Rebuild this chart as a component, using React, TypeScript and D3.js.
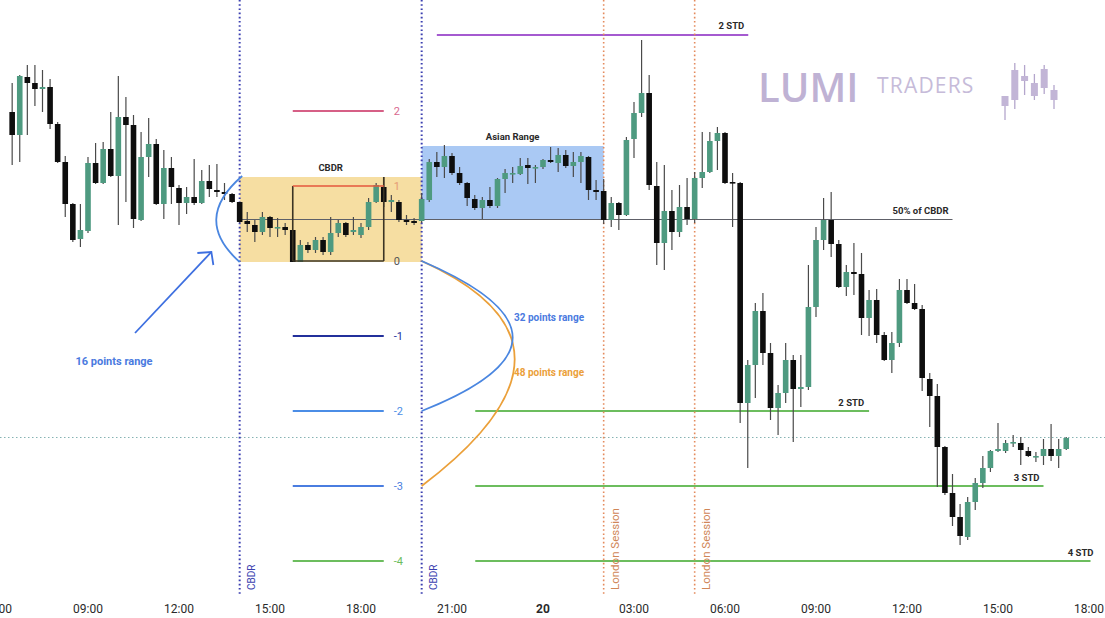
import React from 'react';
import * as d3 from 'd3';

// ---------- DATA ----------
// 15-minute candles, 19th 06:30 -> 20th 17:15
const candleStart = Date.UTC(2024, 2, 19, 6, 30);
const candleStepMs = 15 * 60 * 1000;

const opens = [
  488,465,523,517,511,513,476,438,396,361,
  369,437,417,451,424,483,475,380,443,456,
  396,432,412,397,403,397,419,410,408,406,
  398,379,375,368,383,372,373,370,338,355,
  350,360,348,367,377,368,365,373,398,413,
  398,398,380,379,379,400,438,433,444,427,
  417,401,392,400,394,421,426,426,435,432,
  433,440,437,445,434,438,443,410,409,380,
  397,385,461,487,507,414,357,389,368,393,
  381,422,428,459,467,418,417,197,235,289,
  247,192,207,240,211,213,293,360,380,356,
  313,328,326,282,300,265,240,257,310,297,
  291,221,204,153,107,83,63,98,117,132,
  149,149,157,157,149,143,144,151,144,151,
];
const highs = [
  517,525,535,535,530,521,478,444,397,396,
  443,457,458,488,524,503,485,468,482,461,
  450,443,415,413,441,430,435,436,417,407,
  398,388,380,388,384,382,377,370,360,358,
  363,363,383,380,378,383,377,402,417,423,
  405,400,385,382,407,441,448,455,447,433,
  418,405,403,413,422,431,433,442,442,435,
  441,453,452,450,448,448,444,420,421,403,
  398,463,498,560,525,438,435,410,415,422,
  428,468,468,473,468,427,418,240,297,307,
  257,215,257,245,245,335,373,402,408,360,
  335,357,347,310,311,268,268,321,321,316,
  295,227,216,154,126,96,103,122,144,150,
  177,160,165,163,153,148,161,176,161,163,
];
const lows = [
  435,438,465,494,488,471,437,383,358,353,
  367,416,416,423,375,398,372,379,423,395,
  381,396,375,386,395,396,403,403,400,397,
  377,368,358,365,363,363,365,338,338,347,
  347,345,345,363,363,365,362,370,397,393,
  388,378,375,375,377,398,423,422,425,415,
  394,390,381,392,392,407,417,425,416,417,
  431,437,428,432,423,417,400,400,376,373,
  370,384,442,483,410,335,330,350,363,375,
  377,412,427,430,416,373,177,132,202,235,
  180,165,197,158,193,210,283,350,343,312,
  304,305,265,264,257,239,227,253,296,290,
  209,173,113,105,74,55,60,90,112,128,
  148,147,153,135,143,138,135,139,132,150,
];
const closes = [
  465,524,517,511,513,476,438,396,360,370,
  437,417,451,424,483,475,381,443,456,396,
  432,413,397,403,397,419,411,408,406,398,
  378,376,368,383,372,373,370,338,355,350,
  360,348,367,377,365,370,373,398,415,398,
  400,380,378,377,401,438,433,444,427,417,
  402,392,400,394,421,427,427,434,432,433,
  440,438,445,434,438,444,410,408,380,397,
  385,460,487,507,415,357,389,368,393,381,
  422,428,459,467,417,417,197,235,289,247,
  192,207,240,211,213,293,360,380,356,313,
  328,326,282,300,265,240,257,310,297,291,
  222,204,153,107,83,64,98,117,132,149,
  151,157,158,150,144,144,151,144,151,162,
];

const tickLabels = ['06:00','09:00','12:00','15:00','18:00','21:00','20','03:00','06:00','09:00','12:00','15:00','18:00'];

// CBDR range (wick range) and fib box (body range)
const cbdrRangeHigh = 423;
const cbdrRangeLow = 338;
const fibHigh = 414;
const fibLow = 339;
const fibRatios = [2, 1, 0, -1, -2, -3, -4];
const fibLabels = ['2', '1', '0', '-1', '-2', '-3', '-4'];
const fibLineColors = ['#d65f86', '#e5573d', '#3b3424', '#23309b', '#4b8de6', '#4a7de0', '#6cbd5e'];
const fibTextColors = ['#d9688e', '#e59b74', '#555555', '#23309b', '#4b8de6', '#4a7de0', '#6cbd5e'];

const asianHigh = 454;
const asianLow = 380;

const stdLabels = ['2 STD', '3 STD', '4 STD'];
const stdRatios = [-2, -3, -4];
const stdEndHours = [10.75, 16.5, 18.05]; // hours after midnight on the 20th
const stdLabelEndOffsets = [-5, -4, 3];

const upperStdPrice = 565;
const currentPrice = 163;

const logoCandles = [
  // open, high, low, close (logo units)
  [4, 12, -10, 14],
  [10, 47, 1, 40],
  [34, 45, 15, 29],
  [14, 36, 10, 27],
  [22, 45, 16, 41],
  [10, 25, 1, 20],
];

const T = (d: number, h: number, m = 0) => new Date(Date.UTC(2024, 2, d, h, m));
const hoursAfter = (base: Date, h: number) => new Date(base.getTime() + h * 3600000);

export default function App() {
  const W = 1105, H = 618;
  const x = d3.scaleUtc().domain([T(19, 6), T(20, 18)]).range([-3, 1089]);
  const y = d3.scaleLinear().domain([0, 600]).range([600, 0]);

  const candles = opens.map((o, i) => ({
    t: new Date(candleStart + i * candleStepMs),
    o, h: highs[i], l: lows[i], c: closes[i],
  }));
  const bw = 5.6;
  const green = '#4e9a80';
  const black = '#0e0e0e';

  const fibY = (r: number) => y(fibLow + r * (fibHigh - fibLow));
  const fibX0 = x(T(19, 15, 45));
  const fibX1 = x(T(19, 18, 45));

  const cb0 = x(T(19, 14));
  const cb1 = x(T(19, 20));
  const ld0 = x(T(20, 2));
  const ld1 = x(T(20, 5));
  const midCbdr = (cbdrRangeHigh + cbdrRangeLow) / 2;

  const tickTimes = tickLabels.map((_, i) => hoursAfter(T(19, 6), i * 3));

  const font = "Roboto, 'Noto Sans', 'DejaVu Sans', sans-serif";

  const quad = (p0: [number, number], c: [number, number], p1: [number, number]) => {
    const p = d3.path();
    p.moveTo(p0[0], p0[1]);
    p.quadraticCurveTo(c[0], c[1], p1[0], p1[1]);
    return p.toString();
  };

  const leftCurve = quad([x(T(19, 14, 5)), y(cbdrRangeHigh + 1)], [x(T(19, 12, 25)), y(midCbdr)], [x(T(19, 14)), y(cbdrRangeLow)]);
  const blueCurve = quad([x(T(19, 20)), y(fibLow)], [x(T(20, 2)), y(261)], [x(T(19, 20)), fibY(-2)]);
  const orangeCurve = quad([x(T(19, 20)), y(fibLow)], [x(T(20, 2, 8)), y(255)], [x(T(19, 20)), fibY(-3)]);

  const arrowStart: [number, number] = [x(T(19, 10, 33)), y(267)];
  const arrowEnd: [number, number] = [x(T(19, 13, 4)), y(348)];

  const logoX = (i: number) => 1005 + i * 9.8;
  const logoY = (v: number) => 110 - v;

  return (
    <svg width={W} height={H} style={{ position: 'absolute', left: 0, top: 0, background: '#fff' }} fontFamily={font}>
      <rect x={0} y={0} width={W} height={H} fill="#ffffff" />

      {/* CBDR shading */}
      <rect x={cb0} y={y(cbdrRangeHigh)} width={cb1 - cb0} height={y(cbdrRangeLow) - y(cbdrRangeHigh)} fill="#f6dea2" />
      {/* Asian range */}
      <rect x={cb1} y={y(asianHigh)} width={ld0 - cb1} height={y(asianLow) - y(asianHigh)} fill="#aac9f4" />

      {/* current price dotted line */}
      <line x1={0} x2={W} y1={y(currentPrice) + 0.5} y2={y(currentPrice) + 0.5} stroke="#86b3b3" strokeWidth={1} strokeDasharray="1.5,2.5" />

      {/* 50% of CBDR */}
      <line x1={x(T(19, 13, 55))} x2={x(T(20, 13, 30))} y1={y(midCbdr)} y2={y(midCbdr)} stroke="#5e6068" strokeWidth={1.2} />
      <text x={x(T(20, 13, 30)) - 4} y={y(midCbdr) - 6} textAnchor="end" fontSize={9.5} fontWeight={700} fill="#2a2a2a">50% of CBDR</text>

      {/* fib lines */}
      {fibRatios.map((r, i) => (
        <g key={'fib' + i}>
          {r !== 1 && r !== 0 && (
            <line x1={fibX0} x2={fibX1} y1={fibY(r)} y2={fibY(r)} stroke={fibLineColors[i]} strokeWidth={2} />
          )}
          <text x={fibX1 + 10} y={fibY(r) + 4} fontSize={11} fill={fibTextColors[i]}>{fibLabels[i]}</text>
        </g>
      ))}

      {/* STD lines */}
      {stdRatios.map((r, i) => {
        const xEnd = x(hoursAfter(T(20, 0), stdEndHours[i]));
        return (
          <g key={'std' + i}>
            <line x1={x(T(19, 21, 46))} x2={xEnd} y1={fibY(r)} y2={fibY(r)} stroke="#6cbd5e" strokeWidth={2} />
            <text x={xEnd + stdLabelEndOffsets[i]} y={fibY(r) - 5} textAnchor="end" fontSize={9.5} fontWeight={700} fill="#2a2a2a">{stdLabels[i]}</text>
          </g>
        );
      })}
      <line x1={x(T(19, 20, 30))} x2={x(T(20, 6, 46))} y1={y(upperStdPrice)} y2={y(upperStdPrice)} stroke="#a55ad0" strokeWidth={2} />
      <text x={x(T(20, 6, 46)) - 4} y={y(upperStdPrice) - 6} textAnchor="end" fontSize={9.5} fontWeight={700} fill="#2a2a2a">2 STD</text>

      {/* vertical dotted lines */}
      {[cb0, cb1].map((vx, i) => (
        <line key={'cbl' + i} x1={vx} x2={vx} y1={0} y2={595} stroke="#3b3fb0" strokeWidth={2} strokeDasharray="1.6,2.6" />
      ))}
      {[ld0, ld1].map((vx, i) => (
        <line key={'ldl' + i} x1={vx} x2={vx} y1={0} y2={595} stroke="#e48a5c" strokeWidth={1.6} strokeDasharray="1.6,2.6" />
      ))}
      {[cb0, cb1].map((vx, i) => (
        <text key={'cbt' + i} transform={`translate(${vx + 15},590) rotate(-90)`} fontSize={10} fill="#3b3fb0">CBDR</text>
      ))}
      {[ld0, ld1].map((vx, i) => (
        <text key={'ldt' + i} transform={`translate(${vx + 15},590) rotate(-90)`} fontSize={11.5} fill="#d08657">London Session</text>
      ))}

      {/* candles */}
      {candles.map((d, i) => {
        const cx = x(d.t);
        const up = d.c >= d.o;
        const top = y(Math.max(d.o, d.c));
        const bot = y(Math.min(d.o, d.c));
        return (
          <g key={'c' + i}>
            <line x1={cx} x2={cx} y1={y(d.h)} y2={y(d.l)} stroke="#4a4a4a" strokeWidth={1.2} />
            <rect x={cx - bw / 2} y={top} width={bw} height={Math.max(1.6, bot - top)} fill={up ? green : black} />
          </g>
        );
      })}

      {/* inner CBDR box */}
      <line x1={fibX0} x2={fibX0} y1={fibY(1)} y2={fibY(0)} stroke="#3b3424" strokeWidth={1.6} />
      <line x1={fibX1} x2={fibX1} y1={y(cbdrRangeHigh)} y2={fibY(0)} stroke="#3b3424" strokeWidth={1.6} />
      <line x1={fibX0} x2={fibX1} y1={fibY(1)} y2={fibY(1)} stroke="#e5573d" strokeWidth={1.6} />
      <line x1={fibX0} x2={fibX1} y1={fibY(0)} y2={fibY(0)} stroke="#3b3424" strokeWidth={1.6} />

      {/* titles */}
      <text x={(cb0 + cb1) / 2} y={y(cbdrRangeHigh) - 6} textAnchor="middle" fontSize={9.5} fontWeight={700} fill="#2a2a2a">CBDR</text>
      <text x={(cb1 + ld0) / 2} y={y(asianHigh) - 6} textAnchor="middle" fontSize={9.5} fontWeight={700} fill="#2a2a2a">Asian Range</text>

      {/* range curves */}
      <path d={leftCurve} fill="none" stroke="#4a86e0" strokeWidth={1.8} />
      <path d={orangeCurve} fill="none" stroke="#eba03a" strokeWidth={1.8} />
      <path d={blueCurve} fill="none" stroke="#4a86e0" strokeWidth={1.8} />
      <line x1={arrowStart[0]} y1={arrowStart[1]} x2={arrowEnd[0]} y2={arrowEnd[1]} stroke="#3d6fe0" strokeWidth={1.8} />
      <polyline points={`${arrowEnd[0] - 14},${arrowEnd[1] + 1} ${arrowEnd[0]},${arrowEnd[1]} ${arrowEnd[0] + 2},${arrowEnd[1] + 13}`} fill="none" stroke="#3d6fe0" strokeWidth={1.8} />
      <text x={114} y={y(235)} textAnchor="middle" fontSize={11} fontWeight={700} fill="#4a7ae0">16 points range</text>
      <text x={514} y={y(279)} fontSize={10} fontWeight={700} fill="#4a7ae0">32 points range</text>
      <text x={514} y={y(224)} fontSize={10} fontWeight={700} fill="#eba03a">48 points range</text>

      {/* logo */}
      <text x={758} y={102} fontSize={40} fontWeight={600} fill="#bfb2d4" fontFamily="'Open Sans', sans-serif">LUMI</text>
      <text x={877} y={93} fontSize={21} fontWeight={400} fill="#c6bbd9" letterSpacing={1.2} fontFamily="'Open Sans', sans-serif">TRADERS</text>
      {logoCandles.map((c, i) => (
        <g key={'lg' + i}>
          <line x1={logoX(i)} x2={logoX(i)} y1={logoY(c[1])} y2={logoY(c[2])} stroke="#b4a6cc" strokeWidth={1.3} />
          <rect x={logoX(i) - 3.5} y={logoY(Math.max(c[0], c[3]))} width={7} height={Math.abs(c[3] - c[0])} fill="#c2b5d6" />
        </g>
      ))}

      {/* x axis labels */}
      {tickTimes.map((t, i) => (
        <text key={'tk' + i} x={x(t)} y={613} textAnchor="middle" fontSize={12} fill="#2a2a2a" fontWeight={tickLabels[i] === '20' ? 700 : 400}>{tickLabels[i]}</text>
      ))}
    </svg>
  );
}
